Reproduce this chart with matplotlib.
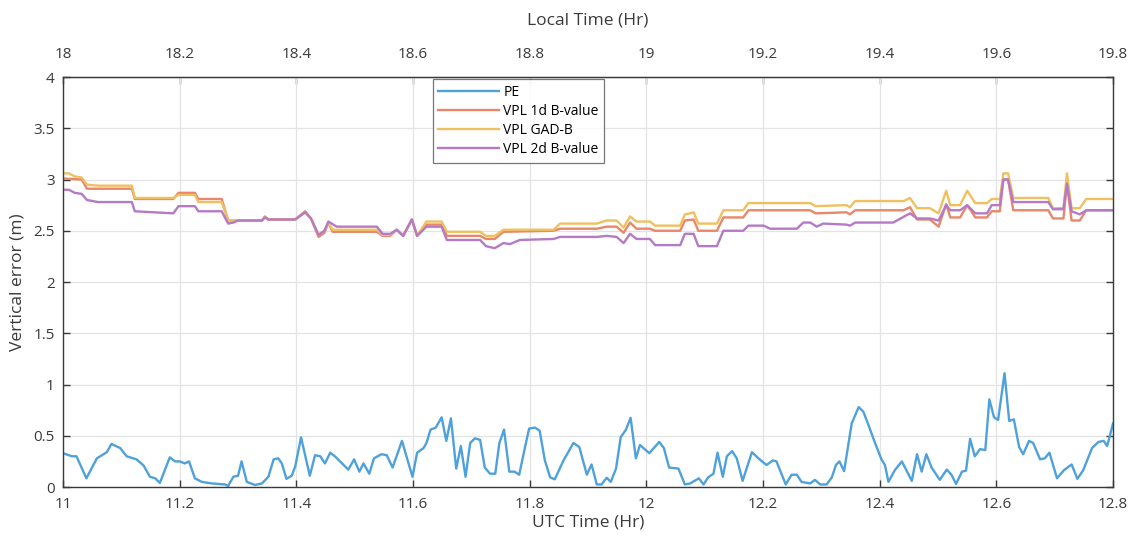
import matplotlib
matplotlib.use("Agg")
import matplotlib.pyplot as plt
import numpy as np

plt.rcParams['font.family'] = ['Open Sans', 'DejaVu Sans']

# ---- data ----
pe_t = [11.0, 11.015, 11.023, 11.04, 11.058, 11.075, 11.083, 11.098, 11.109, 11.126, 11.138, 11.149,
        11.158, 11.166, 11.183, 11.192, 11.2, 11.209, 11.216, 11.226, 11.238, 11.255, 11.278, 11.283,
        11.292, 11.3, 11.306, 11.315, 11.329, 11.341, 11.352, 11.361, 11.369, 11.375, 11.383, 11.392,
        11.398, 11.408, 11.423, 11.432, 11.441, 11.449, 11.458, 11.466, 11.489, 11.499, 11.508, 11.515,
        11.525, 11.533, 11.546, 11.555, 11.565, 11.581, 11.599, 11.607, 11.618, 11.623, 11.630, 11.639,
        11.649, 11.657, 11.665, 11.674, 11.682, 11.690, 11.698, 11.706, 11.715, 11.723, 11.732, 11.741,
        11.748, 11.756, 11.765, 11.774, 11.782, 11.792, 11.799, 11.809, 11.817, 11.826, 11.835, 11.843,
        11.858, 11.875, 11.885, 11.898, 11.906, 11.915, 11.923, 11.932, 11.939, 11.948, 11.956, 11.965,
        11.973, 11.982, 11.989, 12.005, 12.022, 12.030, 12.039, 12.055, 12.066, 12.075, 12.090, 12.098,
        12.106, 12.115, 12.122, 12.131, 12.138, 12.147, 12.155, 12.165, 12.181, 12.194, 12.206, 12.217,
        12.223, 12.239, 12.249, 12.258, 12.266, 12.281, 12.289, 12.298, 12.309, 12.318, 12.325, 12.331,
        12.339, 12.352, 12.364, 12.372, 12.383, 12.392, 12.403, 12.409, 12.415, 12.426, 12.438, 12.455,
        12.464, 12.472, 12.480, 12.489, 12.503, 12.515, 12.523, 12.531, 12.541, 12.548, 12.555, 12.563,
        12.572, 12.581, 12.588, 12.596, 12.603, 12.614, 12.622, 12.630, 12.639, 12.646, 12.656, 12.663,
        12.675, 12.683, 12.691, 12.704, 12.716, 12.729, 12.739, 12.749, 12.764, 12.775, 12.784, 12.790,
        12.8]
pe_v = [0.33, 0.30, 0.30, 0.085, 0.28, 0.34, 0.42, 0.38, 0.30, 0.27, 0.21, 0.10,
        0.085, 0.04, 0.29, 0.25, 0.25, 0.23, 0.25, 0.085, 0.05, 0.035, 0.025, 0.01,
        0.10, 0.11, 0.25, 0.05, 0.02, 0.035, 0.10, 0.27, 0.28, 0.23, 0.08, 0.11,
        0.20, 0.485, 0.11, 0.31, 0.30, 0.23, 0.335, 0.30, 0.17, 0.27, 0.15, 0.23,
        0.13, 0.28, 0.32, 0.31, 0.19, 0.45, 0.10, 0.335, 0.38, 0.43, 0.56, 0.58,
        0.68, 0.45, 0.67, 0.18, 0.40, 0.10, 0.43, 0.475, 0.46, 0.19, 0.13, 0.13,
        0.43, 0.56, 0.15, 0.15, 0.12, 0.39, 0.57, 0.58, 0.55, 0.26, 0.095, 0.075,
        0.26, 0.43, 0.39, 0.12, 0.22, 0.025, 0.025, 0.09, 0.05, 0.18, 0.485, 0.56,
        0.675, 0.28, 0.41, 0.33, 0.44, 0.38, 0.19, 0.18, 0.025, 0.035, 0.085, 0.025,
        0.095, 0.13, 0.335, 0.10, 0.30, 0.35, 0.28, 0.06, 0.34, 0.27, 0.215, 0.26,
        0.25, 0.025, 0.12, 0.12, 0.05, 0.035, 0.07, 0.025, 0.025, 0.095, 0.215, 0.25,
        0.155, 0.62, 0.78, 0.735, 0.57, 0.43, 0.27, 0.215, 0.05, 0.165, 0.25, 0.06,
        0.32, 0.15, 0.32, 0.19, 0.07, 0.17, 0.12, 0.03, 0.15, 0.16, 0.47, 0.30,
        0.37, 0.36, 0.855, 0.68, 0.655, 1.11, 0.645, 0.66, 0.39, 0.32, 0.45, 0.43,
        0.27, 0.28, 0.335, 0.085, 0.165, 0.22, 0.08, 0.165, 0.38, 0.44, 0.45, 0.40,
        0.62]

gad_t = [11.0, 11.01, 11.02, 11.032, 11.041, 11.06, 11.118, 11.123, 11.189, 11.198, 11.226, 11.232,
         11.272, 11.283, 11.341, 11.346, 11.352, 11.398, 11.415, 11.425, 11.438, 11.448, 11.455, 11.462,
         11.538, 11.548, 11.561, 11.572, 11.583, 11.598, 11.607, 11.623, 11.649, 11.658, 11.715, 11.725,
         11.74, 11.755, 11.841, 11.852, 11.915, 11.932, 11.949, 11.961, 11.972, 11.983, 12.006, 12.015,
         12.058, 12.066, 12.075, 12.081, 12.089, 12.121, 12.132, 12.166, 12.175, 12.281, 12.29, 12.343,
         12.349, 12.358, 12.441, 12.452, 12.464, 12.486, 12.501, 12.514, 12.521, 12.538, 12.550, 12.564,
         12.584, 12.592, 12.606, 12.612, 12.620, 12.629, 12.689, 12.697, 12.715, 12.721, 12.729, 12.743,
         12.754, 12.8]
gad_v = [3.06, 3.06, 3.03, 3.02, 2.95, 2.94, 2.94, 2.82, 2.82, 2.85, 2.85, 2.78,
         2.78, 2.60, 2.60, 2.63, 2.61, 2.61, 2.68, 2.62, 2.46, 2.50, 2.58, 2.51,
         2.51, 2.46, 2.46, 2.51, 2.45, 2.61, 2.45, 2.59, 2.59, 2.49, 2.49, 2.45,
         2.45, 2.51, 2.51, 2.57, 2.57, 2.60, 2.60, 2.53, 2.64, 2.59, 2.59, 2.55,
         2.55, 2.66, 2.67, 2.68, 2.57, 2.57, 2.70, 2.70, 2.77, 2.77, 2.74, 2.75,
         2.73, 2.79, 2.79, 2.82, 2.72, 2.72, 2.67, 2.89, 2.75, 2.75, 2.89, 2.77,
         2.77, 2.81, 2.81, 3.06, 3.06, 2.82, 2.82, 2.72, 2.72, 3.06, 2.72, 2.72,
         2.81, 2.81]

b1d_t = [11.0, 11.032, 11.041, 11.118, 11.123, 11.189, 11.198, 11.226, 11.232, 11.272, 11.283, 11.341,
         11.346, 11.352, 11.398, 11.415, 11.425, 11.438, 11.448, 11.455, 11.462, 11.538, 11.548, 11.561,
         11.572, 11.583, 11.598, 11.607, 11.623, 11.649, 11.658, 11.715, 11.725, 11.74, 11.755, 11.841,
         11.852, 11.915, 11.932, 11.949, 11.961, 11.972, 11.983, 12.006, 12.015, 12.058, 12.066, 12.081,
         12.089, 12.121, 12.132, 12.166, 12.175, 12.281, 12.29, 12.343, 12.349, 12.358, 12.441, 12.452,
         12.464, 12.486, 12.501, 12.514, 12.521, 12.538, 12.550, 12.564, 12.584, 12.592, 12.606, 12.612,
         12.620, 12.629, 12.689, 12.697, 12.715, 12.721, 12.729, 12.743, 12.754, 12.8]
b1d_v = [3.01, 3.00, 2.91, 2.91, 2.81, 2.81, 2.87, 2.87, 2.81, 2.81, 2.60, 2.60,
         2.64, 2.61, 2.61, 2.69, 2.62, 2.44, 2.48, 2.58, 2.49, 2.49, 2.45, 2.45,
         2.51, 2.45, 2.61, 2.45, 2.56, 2.56, 2.45, 2.45, 2.42, 2.42, 2.49, 2.50,
         2.52, 2.52, 2.54, 2.54, 2.48, 2.58, 2.52, 2.52, 2.50, 2.50, 2.60, 2.61,
         2.50, 2.50, 2.63, 2.63, 2.70, 2.70, 2.67, 2.68, 2.66, 2.70, 2.70, 2.73,
         2.61, 2.61, 2.54, 2.76, 2.63, 2.63, 2.75, 2.63, 2.63, 2.69, 2.69, 3.00,
         3.00, 2.70, 2.70, 2.62, 2.62, 2.96, 2.60, 2.60, 2.70, 2.70]

b2d_t = [11.0, 11.01, 11.02, 11.032, 11.041, 11.06, 11.118, 11.123, 11.189, 11.198, 11.226, 11.232,
         11.272, 11.283, 11.292, 11.30, 11.341, 11.346, 11.352, 11.398, 11.415, 11.425, 11.438, 11.448,
         11.455, 11.469, 11.538, 11.548, 11.561, 11.572, 11.583, 11.598, 11.607, 11.623, 11.649, 11.658,
         11.715, 11.725, 11.74, 11.755, 11.766, 11.783, 11.841, 11.852, 11.915, 11.932, 11.949, 11.961,
         11.972, 11.983, 12.006, 12.015, 12.058, 12.066, 12.081, 12.089, 12.121, 12.132, 12.166, 12.175,
         12.201, 12.212, 12.258, 12.269, 12.281, 12.292, 12.303, 12.343, 12.349, 12.358, 12.423, 12.452,
         12.464, 12.486, 12.501, 12.514, 12.521, 12.538, 12.550, 12.564, 12.584, 12.592, 12.606, 12.612,
         12.620, 12.629, 12.689, 12.697, 12.715, 12.721, 12.729, 12.743, 12.754, 12.8]
b2d_v = [2.90, 2.90, 2.87, 2.86, 2.80, 2.78, 2.78, 2.69, 2.67, 2.74, 2.74, 2.69,
         2.69, 2.57, 2.58, 2.60, 2.60, 2.63, 2.61, 2.61, 2.68, 2.62, 2.46, 2.50,
         2.59, 2.54, 2.54, 2.47, 2.47, 2.51, 2.45, 2.61, 2.45, 2.54, 2.54, 2.41,
         2.41, 2.35, 2.33, 2.38, 2.37, 2.41, 2.42, 2.44, 2.44, 2.45, 2.44, 2.38,
         2.47, 2.42, 2.42, 2.36, 2.36, 2.47, 2.47, 2.35, 2.35, 2.50, 2.50, 2.55,
         2.55, 2.52, 2.52, 2.58, 2.58, 2.54, 2.57, 2.56, 2.55, 2.58, 2.58, 2.67,
         2.62, 2.62, 2.60, 2.75, 2.70, 2.70, 2.75, 2.67, 2.67, 2.75, 2.75, 3.00,
         3.00, 2.78, 2.78, 2.71, 2.71, 2.96, 2.69, 2.66, 2.70, 2.70]

utc_ticks = [11, 11.2, 11.4, 11.6, 11.8, 12, 12.2, 12.4, 12.6, 12.8]
local_ticks = [18, 18.2, 18.4, 18.6, 18.8, 19, 19.2, 19.4, 19.6, 19.8]
y_ticks = [0, 0.5, 1, 1.5, 2, 2.5, 3, 3.5, 4]
local_offset = 7

# ---- plot ----
fig = plt.figure(figsize=(11.34, 5.40), dpi=100)
ax = fig.add_axes([0.0556, 0.0981, 0.9259, 0.7593])

c_pe = '#4ea1da'
c_1d = '#e8876a'
c_gad = '#f0c060'
c_2d = '#b57ac6'

ax.plot(pe_t, pe_v, color=c_pe, lw=1.7, label='PE')
ax.plot(b1d_t, b1d_v, color=c_1d, lw=1.7, label='VPL 1d B-value')
ax.plot(gad_t, gad_v, color=c_gad, lw=1.7, label='VPL GAD-B')
ax.plot(b2d_t, b2d_v, color=c_2d, lw=1.7, label='VPL 2d B-value')

ax.set_xlim(11, 12.8)
ax.set_ylim(0, 4)
ax.set_xticks(utc_ticks)
ax.set_xticklabels([f'{v:g}' for v in utc_ticks])
ax.set_yticks(y_ticks)
ax.set_yticklabels([f'{v:g}' for v in y_ticks])
ax.grid(True, color='#e3e3e3', lw=0.9)
ax.set_axisbelow(True)

edge = '#3a3a3a'
for s in ax.spines.values():
    s.set_color(edge)
    s.set_linewidth(1.0)
ax.tick_params(axis='x', direction='in', length=5, width=1.0, colors=edge, labelsize=11,
               bottom=True, top=False, pad=7)
ax.tick_params(axis='y', direction='in', length=5, width=1.0, colors=edge, labelsize=11,
               right=True, left=True, pad=6)

ax.set_xlabel('UTC Time (Hr)', fontsize=12.5, color=edge, labelpad=2)
ax.set_ylabel('Vertical error (m)', fontsize=12.5, color=edge, labelpad=6)

sec = ax.secondary_xaxis('top', functions=(lambda x: x + local_offset, lambda x: x - local_offset))
sec.set_xticks(local_ticks)
sec.set_xticklabels([f'{v:g}' for v in local_ticks])
sec.tick_params(direction='in', length=5, width=1.0, colors=edge, labelsize=11, pad=11)
sec.spines['top'].set_color(edge)
sec.set_xlabel('Local Time (Hr)', fontsize=12.5, color=edge, labelpad=16)

leg = ax.legend(loc='upper left', bbox_to_anchor=(0.352, 0.995), fontsize=10,
                frameon=True, fancybox=False, edgecolor='#555555', handlelength=4.4,
                handletextpad=0.3, borderpad=0.4, labelspacing=0.3, borderaxespad=0)
leg.get_frame().set_linewidth(0.9)

fig.savefig('out.png', dpi=100)
